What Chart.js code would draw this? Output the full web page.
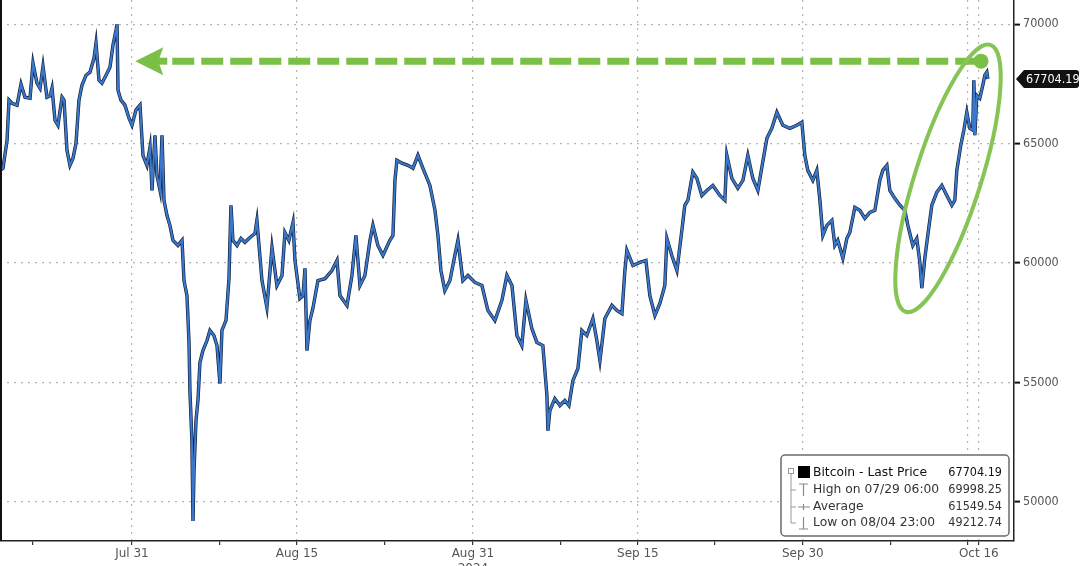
<!DOCTYPE html>
<html>
<head>
<meta charset="utf-8">
<title>Bitcoin - Last Price</title>
<script src="https://cdn.jsdelivr.net/npm/chart.js@4.4.1/dist/chart.umd.min.js"></script>
<style>
  html, body { margin: 0; padding: 0; background: #fff; }
  #wrap { width: 1080px; height: 566px; position: relative; }
</style>
</head>
<body>
<div id="wrap"><canvas id="btc"></canvas></div>
<script>
// time axis: days since 2024-07-19 00:00
const days = [
  0, 0.27, 0.64, 0.82, 1.09, 1.55, 1.91, 2.27, 2.73, 3.0,
  3.36, 3.64, 3.91, 4.27, 4.55, 4.73, 5.0, 5.27, 5.64, 5.82,
  6.09, 6.36, 6.64, 6.91, 7.18, 7.45, 7.82, 8.18, 8.55, 8.73,
  9.0, 9.27, 9.64, 10.0, 10.27, 10.55, 10.64, 10.73, 11.0, 11.36,
  11.73, 12.0, 12.36, 12.73, 13.0, 13.36, 13.64, 13.82, 14.09, 14.27,
  14.55, 14.73, 14.91, 15.18, 15.45, 15.73, 16.18, 16.55, 16.73, 17.0,
  17.18, 17.27, 17.45, 17.55, 17.64, 17.82, 18.0, 18.18, 18.45, 18.82,
  19.09, 19.45, 19.73, 20.0, 20.18, 20.55, 20.82, 21.0, 21.18, 21.55,
  21.91, 22.27, 22.73, 23.18, 23.36, 23.82, 24.27, 24.73, 25.18, 25.64,
  25.91, 26.27, 26.64, 26.82, 27.27, 27.55, 27.73, 27.91, 28.18, 28.45,
  28.91, 29.55, 30.18, 30.64, 30.91, 31.55, 32.0, 32.36, 32.73, 33.18,
  33.64, 33.91, 34.36, 34.82, 35.45, 35.73, 35.91, 36.09, 36.55, 37.09,
  37.55, 38.0, 38.45, 39.09, 39.55, 39.82, 40.09, 40.45, 40.91, 41.36,
  41.64, 42.09, 42.55, 43.18, 43.82, 44.36, 45.0, 45.64, 46.09, 46.55,
  47.0, 47.45, 47.82, 48.36, 48.82, 49.36, 49.73, 49.82, 50.0, 50.45,
  50.91, 51.36, 51.73, 52.09, 52.55, 52.91, 53.36, 53.91, 54.27, 54.55,
  55.0, 55.64, 56.09, 56.55, 56.82, 57.0, 57.55, 58.18, 58.73, 59.09,
  59.55, 60.0, 60.45, 60.64, 61.09, 61.55, 62.0, 62.27, 62.55, 63.0,
  63.36, 63.82, 64.27, 64.82, 65.45, 65.91, 66.09, 66.55, 67.09, 67.55,
  68.0, 68.45, 68.91, 69.27, 69.73, 70.18, 70.64, 71.18, 71.82, 72.45,
  72.91, 73.18, 73.45, 73.91, 74.27, 74.55, 74.82, 75.18, 75.64, 75.91,
  76.18, 76.64, 77.0, 77.27, 77.73, 78.18, 78.64, 79.09, 79.55, 80.0,
  80.27, 80.64, 80.91, 81.36, 81.82, 82.27, 82.55, 83.0, 83.36, 83.64,
  83.82, 84.09, 84.36, 84.73, 85.18, 85.64, 86.09, 86.55, 86.82, 87.0,
  87.36, 87.64, 87.91, 88.18, 88.45, 88.55, 88.64, 88.82, 89.09, 89.36,
  89.55, 89.73, 89.82
];

const closes = [
  63880, 63970, 65140, 66820, 66690, 66610, 67490, 66940, 66900, 68370,
  67530, 67320, 68240, 66940, 67000, 67320, 65980, 65770, 66940, 66820,
  64720, 64090, 64390, 65010, 66820, 67440, 67860, 67990, 68580, 69200,
  67650, 67530, 67860, 68200, 69120, 69750, 69998.25, 67230, 66820, 66610,
  66060, 65770, 66400, 66610, 64510, 64090, 64850, 63040, 65350, 63670,
  63040, 65350, 62630, 62000, 61580, 60950, 60740, 60950, 59270, 58640,
  56760, 54660, 52570, 49212.74, 51310, 53410, 54250, 55840, 56340, 56760,
  57180, 56970, 56550, 54960, 57180, 57600, 59360, 62420, 60950, 60740,
  61030, 60870, 61070, 61240, 61790, 59270, 58140, 60650, 59060, 59480,
  61280, 60950, 61700, 60110, 58520, 58640, 59780, 56340, 57600, 58100,
  59270, 59350, 59690, 60110, 58640, 58230, 59480, 61160, 59060, 59480,
  60950, 61580, 60740, 60320, 60950, 61160, 63460, 64300, 64180, 64090,
  63970, 64510, 63970, 63250, 62210, 61160, 59690, 58850, 59270, 60320,
  60950, 59270, 59480, 59190, 59060, 58020, 57600, 58440, 59480, 59060,
  56970, 56550, 58440, 57260, 56680, 56550, 54460, 52990, 53830, 54330,
  54040, 54250, 54040, 55080, 55590, 57180, 56970, 57680, 56760, 55920,
  57680, 58230, 58020, 57890, 59690, 60530, 59900, 60030, 60110, 58640,
  57810, 58310, 59060, 61030, 60320, 59690, 61370, 62420, 62630, 63800,
  63550, 62830, 63040, 63250, 62830, 62630, 64510, 63550, 63130, 63460,
  64510, 63550, 63040, 64000, 65220, 65640, 66310, 65770, 65640, 65770,
  65890, 64510, 63880, 63460, 63880, 62630, 61160, 61580, 61790, 60740,
  60950, 60200, 61030, 61280, 62330, 62210, 61870, 62120, 62210, 63460,
  63880, 64090, 63040, 62710, 62420, 62210, 61580, 60740, 61030, 60030,
  58950, 60200, 61160, 62420, 62960, 63250, 62830, 62420, 62630, 63880,
  64930, 65560, 66310, 65640, 65560, 67650, 65350, 67020, 66900, 67440,
  67860, 67990, 67704.19
];

const yTicks = [50000, 55000, 60000, 65000, 70000];
const xTickDays = [3, 12, 20, 27, 35, 43, 51, 58, 65, 73, 81, 88, 89];
const xTickLabels = ['', 'Jul 31', '', 'Aug 15', '', ['Aug 31', '2024'], '', 'Sep 15', '', 'Sep 30', '', '', 'Oct 16'];
const gridDays = [12, 27, 43, 58, 73, 88, 89];

const lastPrice = 67704.19;
const highPrice = 69998.25;
const avgPrice = 61549.54;
const lowPrice = 49212.74;
const legendNames = ['Bitcoin - Last Price', 'High on 07/29 06:00', 'Average', 'Low on 08/04 23:00'];
const legendValues = [lastPrice, highPrice, avgPrice, lowPrice];

// green markup, anchored in data units
const arrowLevel = 68450;
const arrowFrom = 12.3;
const arrowTo = 89.2;
const ringCenter = [86.2, 63550];

const WIDE = '"DejaVu Sans", sans-serif';
const NARROW = '"DejaVu Sans Condensed", "DejaVu Sans", sans-serif';
Chart.defaults.font.family = NARROW;

const points = days.map((d, i) => ({ x: d, y: closes[i] }));

const overlay = {
  id: 'overlay',
  afterDatasetsDraw(chart) {
    const { ctx, chartArea: a, scales: { x, y } } = chart;
    ctx.save();

    // left frame
    ctx.strokeStyle = '#111';
    ctx.lineWidth = 2;
    ctx.beginPath();
    ctx.moveTo(a.left + 1, a.top);
    ctx.lineTo(a.left + 1, a.bottom);
    ctx.stroke();

    // dashed arrow back to the July high
    const green = '#7bc046';
    const ay = y.getPixelForValue(arrowLevel);
    const x0 = x.getPixelForValue(arrowFrom);
    const x1 = x.getPixelForValue(arrowTo);
    ctx.strokeStyle = green;
    ctx.lineWidth = 7;
    ctx.setLineDash([22, 7]);
    ctx.beginPath();
    ctx.moveTo(x0 + 37, ay);
    ctx.lineTo(x1, ay);
    ctx.stroke();
    ctx.setLineDash([]);
    ctx.fillStyle = green;
    ctx.beginPath();
    ctx.moveTo(x0, ay);
    ctx.lineTo(x0 + 28, ay - 14);
    ctx.lineTo(x0 + 23, ay);
    ctx.lineTo(x0 + 28, ay + 14);
    ctx.closePath();
    ctx.fill();
    ctx.fillRect(x0 + 20, ay - 3.5, 12, 7);
    ctx.beginPath();
    ctx.arc(x1, ay, 7.5, 0, Math.PI * 2);
    ctx.fill();

    // ring around the October run
    ctx.strokeStyle = '#86c455';
    ctx.lineWidth = 4;
    ctx.beginPath();
    ctx.ellipse(x.getPixelForValue(ringCenter[0]), y.getPixelForValue(ringCenter[1]),
      140, 33, -1.264, 0, Math.PI * 2);
    ctx.stroke();

    // last price tag on the axis
    const py = y.getPixelForValue(lastPrice);
    const tx = a.right + 2;
    ctx.fillStyle = '#111';
    ctx.beginPath();
    ctx.moveTo(tx, py);
    ctx.lineTo(tx + 8, py - 9);
    ctx.lineTo(1076, py - 9);
    ctx.quadraticCurveTo(1079, py - 9, 1079, py - 6);
    ctx.lineTo(1079, py + 6);
    ctx.quadraticCurveTo(1079, py + 9, 1076, py + 9);
    ctx.lineTo(tx + 8, py + 9);
    ctx.closePath();
    ctx.fill();
    ctx.fillStyle = '#fff';
    ctx.font = '12.5px ' + NARROW;
    ctx.textBaseline = 'middle';
    ctx.textAlign = 'left';
    ctx.fillText(lastPrice.toFixed(2), tx + 10, py + 1);

    // legend box
    const bx = 781, by = 455, bw = 228, bh = 81;
    ctx.fillStyle = '#fff';
    ctx.strokeStyle = '#6b6b6b';
    ctx.lineWidth = 1.5;
    ctx.beginPath();
    ctx.roundRect(bx, by, bw, bh, 4);
    ctx.fill();
    ctx.stroke();

    const rowY = [473, 490, 507, 523];
    ctx.strokeStyle = '#9a9a9a';
    ctx.lineWidth = 1;
    ctx.strokeRect(788.5, 468.5, 5, 5);
    ctx.beginPath();
    ctx.moveTo(791, 474); ctx.lineTo(791, rowY[3]);
    for (let i = 1; i < 4; i++) { ctx.moveTo(791, rowY[i]); ctx.lineTo(796, rowY[i]); }
    ctx.stroke();
    ctx.fillStyle = '#000';
    ctx.fillRect(798, 466, 12, 12);
    ctx.strokeStyle = '#8a8a8a';
    ctx.lineWidth = 1.2;
    ctx.beginPath();
    ctx.moveTo(799, 484); ctx.lineTo(808, 484); ctx.moveTo(803.5, 484); ctx.lineTo(803.5, 496);
    ctx.moveTo(798, 507); ctx.lineTo(810, 507); ctx.moveTo(803.5, 504); ctx.lineTo(803.5, 510);
    ctx.moveTo(803.5, 517); ctx.lineTo(803.5, 529); ctx.moveTo(799, 529); ctx.lineTo(808, 529);
    ctx.stroke();

    for (let i = 0; i < 4; i++) {
      ctx.fillStyle = i === 0 ? '#111' : '#333';
      ctx.textAlign = 'left';
      ctx.font = '12.3px ' + WIDE;
      ctx.fillText(legendNames[i], 813, rowY[i]);
      ctx.textAlign = 'right';
      ctx.font = '12.5px ' + NARROW;
      ctx.fillText(legendValues[i].toFixed(2), 1002, rowY[i]);
    }
    ctx.restore();
  }
};

new Chart(document.getElementById('btc'), {
  type: 'line',
  data: {
    datasets: [
      { data: points, borderColor: '#3a78cc', borderWidth: 2.1, pointRadius: 0, tension: 0 },
      { data: points, borderColor: '#121c33', borderWidth: 3.4, pointRadius: 0, tension: 0 }
    ]
  },
  options: {
    responsive: true,
    maintainAspectRatio: false,
    animation: false,
    layout: { padding: 0 },
    plugins: { legend: { display: false }, tooltip: { enabled: false } },
    scales: {
      x: {
        type: 'linear',
        min: 0,
        max: 92.2,
        afterBuildTicks: s => { s.ticks = xTickDays.map(v => ({ value: v })); },
        afterFit: s => { s.height = 25; s.paddingLeft = 0; s.paddingRight = 0; },
        ticks: {
          autoSkip: false,
          maxRotation: 0,
          padding: 2,
          color: '#555',
          font: { family: WIDE, size: 12 },
          callback: (v, i) => xTickLabels[i]
        },
        grid: {
          color: c => (c.tick && gridDays.includes(c.tick.value)) ? '#b4b4b4' : 'rgba(0,0,0,0)',
          lineWidth: 1.2,
          tickColor: '#333',
          tickLength: 4,
          tickWidth: 1.2
        },
        border: { color: '#222', width: 1.5, dash: [2, 5] }
      },
      y: {
        position: 'right',
        min: 48370,
        max: 71010,
        afterBuildTicks: s => { s.ticks = yTicks.map(v => ({ value: v })); },
        afterFit: s => { s.width = 66; s.paddingTop = 0; s.paddingBottom = 0; },
        ticks: {
          padding: 3,
          color: '#555',
          font: { size: 12.5 },
          callback: v => String(v)
        },
        grid: {
          color: '#b4b4b4',
          lineWidth: 1.2,
          tickColor: '#111',
          tickLength: 6,
          tickWidth: 2
        },
        border: { color: '#222', width: 1.5, dash: [2, 5] }
      }
    }
  },
  plugins: [overlay]
});
</script>
</body>
</html>
